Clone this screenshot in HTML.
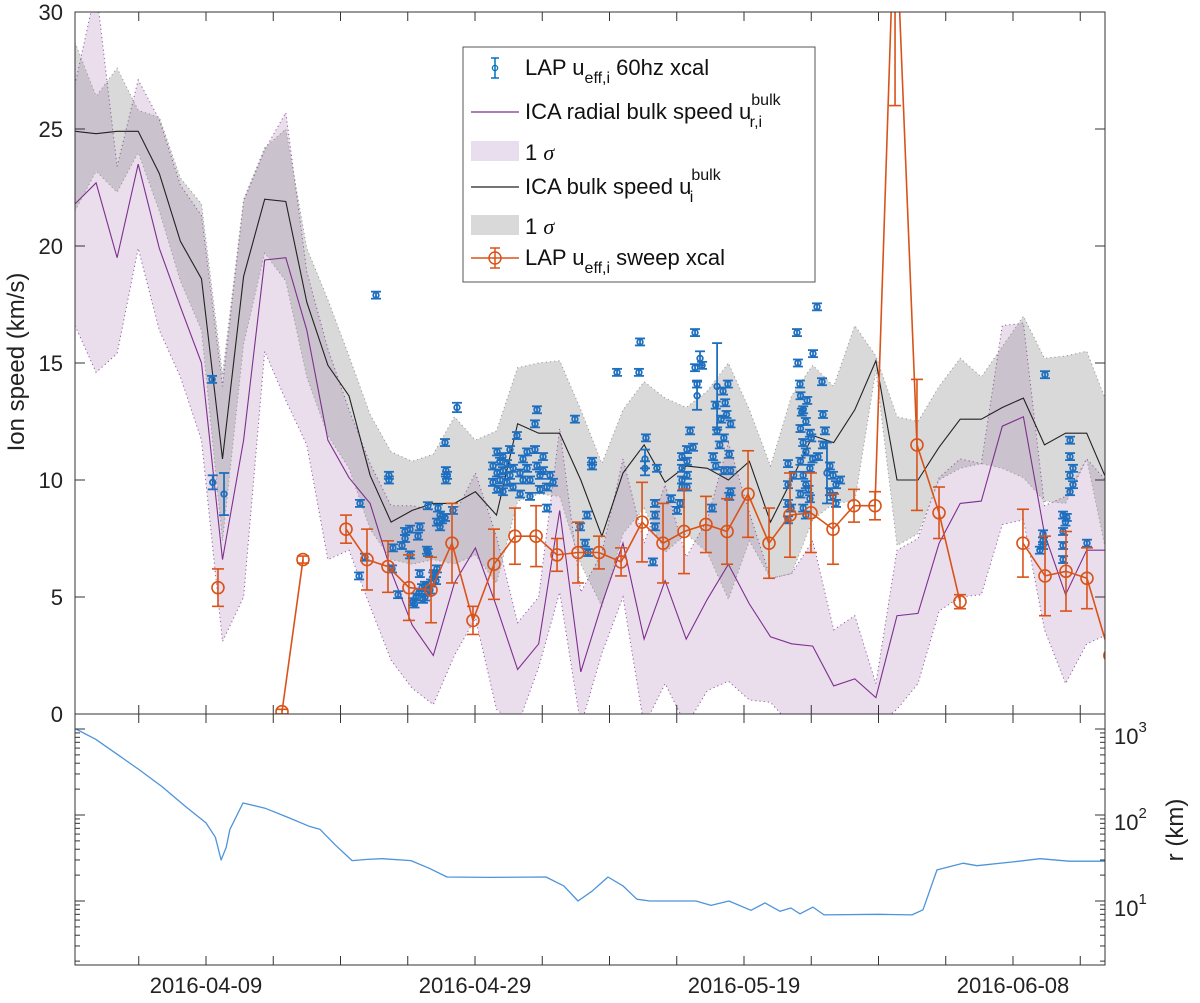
<!DOCTYPE html>
<html><head><meta charset="utf-8"><style>
html,body{margin:0;padding:0;background:#fff;}
svg{display:block;font-family:"Liberation Sans",Arial,sans-serif;}
</style></head>
<body>
<svg id="chart" width="1200" height="1003" viewBox="0 0 1200 1003" xmlns="http://www.w3.org/2000/svg">
<defs>
<clipPath id="clipTop"><rect x="75" y="12" width="1030" height="702"/></clipPath>
<clipPath id="clipBot"><rect x="75" y="714" width="1030" height="251"/></clipPath>
</defs>
<rect x="0" y="0" width="1200" height="1003" fill="#fff"/>
<g id="top-plot" clip-path="url(#clipTop)"></g>
<g id="bot-plot" clip-path="url(#clipBot)"></g>
<g id="axes"></g>
<text x="24" y="362" font-size="24" text-anchor="middle" transform="rotate(-90 24 362)" fill="#222">Ion speed (km/s)</text>
<text x="1183" y="830" font-size="24" text-anchor="middle" transform="rotate(-90 1183 830)" fill="#222">r (km)</text>
<g id="legend">
<rect x="463" y="47" width="352" height="235" fill="#fff" stroke="#555" stroke-width="1"/>
<g>
<line x1="495" y1="58" x2="495" y2="78" stroke="#0072BD" stroke-width="1.5"/>
<line x1="491" y1="58" x2="499" y2="58" stroke="#0072BD" stroke-width="1.5"/>
<line x1="491" y1="78" x2="499" y2="78" stroke="#0072BD" stroke-width="1.5"/>
<circle cx="495" cy="68" r="2.6" fill="none" stroke="#0072BD" stroke-width="1.3"/>
<text x="525" y="75" font-size="22" fill="#111">LAP u<tspan dy="8" font-size="16">eff,i</tspan><tspan dy="-8"> 60hz xcal</tspan></text>
</g>
<g>
<line x1="471" y1="112" x2="519" y2="112" stroke="#7E2F8E" stroke-width="1.2"/>
<text x="525" y="119" font-size="22" fill="#111">ICA radial bulk speed u<tspan dy="-14" font-size="16">bulk</tspan><tspan dx="-31" dy="22" font-size="16">r,i</tspan></text>
</g>
<g>
<rect x="471" y="141" width="48" height="20" fill="#E8DEEE"/>
<text x="525" y="160" font-size="22" fill="#111">1 <tspan font-family="Liberation Serif,serif" font-style="italic">σ</tspan></text>
</g>
<g>
<line x1="471" y1="187" x2="519" y2="187" stroke="#222" stroke-width="1.2"/>
<text x="525" y="194" font-size="22" fill="#111">ICA bulk speed u<tspan dy="-14" font-size="16">bulk</tspan><tspan dx="-31" dy="22" font-size="16">i</tspan></text>
</g>
<g>
<rect x="471" y="215" width="48" height="20" fill="#D9D9D9"/>
<text x="525" y="234" font-size="22" fill="#111">1 <tspan font-family="Liberation Serif,serif" font-style="italic">σ</tspan></text>
</g>
<g>
<line x1="471" y1="258" x2="519" y2="258" stroke="#D95319" stroke-width="1.5"/>
<line x1="495" y1="248" x2="495" y2="268" stroke="#D95319" stroke-width="1.5"/>
<line x1="490" y1="248" x2="500" y2="248" stroke="#D95319" stroke-width="1.5"/>
<line x1="490" y1="268" x2="500" y2="268" stroke="#D95319" stroke-width="1.5"/>
<circle cx="495" cy="258" r="6" fill="none" stroke="#D95319" stroke-width="1.5"/>
<text x="525" y="265" font-size="22" fill="#111">LAP u<tspan dy="8" font-size="16">eff,i</tspan><tspan dy="-8"> sweep xcal</tspan></text>
</g>
</g>
</svg>
<script>
// ---- data (days since 2016-04-09) ----
const nodeStartDay = -9.74;
const nodeStepDay = 1.567;
const icaBulk = [24.9,24.8,24.9,24.9,23.1,20.2,18.6,10.9,18.7,22.0,21.9,17.6,14.9,13.6,10.2,8.2,8.7,9.0,9.0,9.5,
 8.5,12.4,12.0,12.0,10.0,7.6,10.3,11.5,9.9,10.6,10.5,10.0,10.8,8.2,10.0,11.9,11.6,
 13.0,15.1,10.0,10.0,11.4,12.6,12.6,13.1,13.5,11.5,12.0,12.0,9.9];
const icaBulkUpper = [28.7,26.4,27.6,25.8,25.5,22.9,21.8,14.5,22.0,24.2,25.0,19.9,17.7,15.3,12.8,11.2,10.8,11.1,12.7,11.7,
 12.1,14.8,15.0,15.1,13.0,10.7,13.0,14.2,13.5,13.1,13.8,15.0,13.0,10.6,13.6,14.9,14.0,
 16.6,15.3,12.7,12.5,14.0,15.2,14.4,15.7,17.0,15.2,15.3,15.5,13.2];
const icaBulkLower = [21.5,23.2,22.3,24.0,21.5,18.5,16.4,7.4,15.8,19.7,18.5,14.4,11.9,10.5,7.9,6.6,6.4,6.6,6.4,6.8,
 5.6,9.1,9.4,9.3,6.4,4.6,7.7,8.8,6.9,7.7,6.9,4.9,7.4,5.8,6.0,8.3,9.0,
 9.1,14.7,7.2,7.7,10.0,10.5,10.7,10.5,10.1,9.1,9.0,10.9,6.6];
const icaRadial = [21.8,22.7,19.5,23.5,19.9,17.4,15.0,6.6,11.7,19.4,19.5,16.4,11.7,10.1,9.0,6.1,3.8,2.5,5.6,7.1,
 4.6,1.9,3.0,8.7,1.8,4.7,7.3,3.2,5.7,3.2,4.9,6.4,4.7,3.3,3.0,2.9,1.2,
 1.5,0.7,4.2,4.3,7.3,9.0,9.1,12.3,12.7,7.7,5.1,7.0,7.0];
const icaRadialUpper = [26.9,31.0,23.4,27.1,25.4,22.6,21.3,14.0,21.9,24.1,25.7,18.9,15.6,13.0,10.7,8.9,8.9,8.7,8.5,10.3,
 7.6,3.9,5.0,12.2,5.2,6.9,10.9,7.3,9.8,6.7,8.3,11.6,8.6,5.8,6.0,7.4,3.6,
 4.2,1.3,7.0,7.5,10.1,10.9,10.7,16.6,16.7,8.9,9.3,10.9,9.9];
const icaRadialLower = [16.6,14.6,15.4,19.9,16.4,14.4,11.7,3.1,5.0,15.5,13.4,11.5,6.6,7.0,4.6,2.3,1.1,0.4,2.5,4.1,
 0.2,-0.5,2.0,5.2,-0.5,2.6,5.0,-0.5,1.3,-0.5,1.0,1.4,0.6,0.5,-0.5,-0.5,-0.5,
 -0.5,-0.5,0.2,1.3,4.4,5.0,5.1,8.1,8.3,3.6,1.3,3.0,3.4];

const sweepDays = [0.89,3.3,5.65,7.21,9.0,10.41,11.97,13.53,15.09,16.73,18.29,19.85,21.41,22.97,24.54,26.10,27.66,29.22,30.86,32.42,33.98,35.54,37.17,38.74,40.30,41.86,43.42,44.98,46.62,48.18,49.74,51.23,52.86,54.50,56.06,58.5,60.74,62.38,63.94,65.50,67.2];
const sweepVals = [5.4,null,0.1,6.6,null,7.9,6.6,6.3,5.4,5.3,7.3,4.0,6.4,7.6,7.6,6.8,6.9,6.9,6.5,8.2,7.3,7.8,8.1,7.8,9.4,7.3,8.5,8.6,7.9,8.9,8.9,35,11.5,8.6,4.8,null,7.3,5.9,6.1,5.8,2.5];
const sweepErr = [0.8,0,0.1,0.15,0,0.6,1.3,1.1,1.4,1.4,1.7,0.6,1.5,1.2,1.3,0.7,1.3,0.7,0.6,1.7,1.7,1.8,1.2,1.4,1.85,1.5,1.8,1.7,1.5,0.7,0.6,9,2.8,1.1,0.3,0,1.45,1.7,1.7,1.3,0];

const blueDays = [0.45,0.5,1.34,12.64,11.45,13.6,13.6,11.82,11.38,13.9,13.83,14.28,14.57,14.8,14.8,15.17,15.17,15.76,15.9,15.9,16.43,16.5,16.28,
 15.39,15.61,15.84,16.06,16.28,16.5,16.73,16.95,17.17,16.13,16.65,17.1,15.5,16.9,16.5,17.25,17.4,17.55,17.4,17.17,17.77,17.84,17.92,17.84,17.77,18.66,18.36,
 21.34,21.34,21.64,21.64,21.64,21.86,21.86,22.08,22.08,22.08,22.38,22.38,22.6,22.6,22.83,22.83,23.12,23.35,23.35,23.57,23.57,23.87,23.87,24.09,24.09,24.46,24.61,24.46,24.61,24.83,24.83,25.06,25.06,25.35,25.35,25.58,25.8,
 27.43,28.7,28.7,27.81,28.33,28.18,28.4,30.56,32.27,32.19,32.71,32.64,32.64,33.53,33.38,33.38,33.38,33.23,34.57,35.02,35.24,35.39,35.39,35.39,35.39,35.76,35.76,35.76,35.76,35.99,36.21,36.36,36.36,36.51,36.51,36.73,36.88,
 37.62,38.0,38.44,38.6,37.9,38.7,39.0,38.0,38.5,38.2,38.9,37.9,38.5,39.0,39.0,38.9,37.7,38.3,38.8,
 43.27,43.27,43.27,43.27,43.5,43.7,43.94,44.01,44.16,45.13,45.43,45.8,45.87,
 44.2,44.4,44.6,44.2,44.9,44.4,44.6,44.2,44.9,44.4,44.6,44.2,44.9,44.4,44.6,45.0,45.1,44.3,44.7,44.8,
 45.87,46.02,46.17,46.39,46.39,46.62,46.62,46.84,47.14,46.84,45.5,
 62.38,64.24,64.24,64.46,64.24,64.46,64.24,62.23,62.23,62.23,62.0,63.72,63.72,63.72,63.72,63.9,65.5,64.0];
const blueVals = [14.3,9.9,9.4,17.9,9.0,10.0,10.2,6.7,5.9,7.1,6.2,5.1,7.2,7.8,7.5,7.9,6.8,7.6,8.0,6.0,7.0,6.9,5.5,
 4.8,5.0,5.2,5.4,5.0,5.2,5.6,6.0,6.2,4.9,5.3,5.7,4.7,5.9,8.9,8.8,8.5,8.3,8.0,8.2,8.4,10.4,10.2,10.0,11.6,13.1,8.7,
 10.6,9.9,11.2,10.3,9.6,10.8,10.0,11.0,10.4,9.5,10.7,9.9,11.3,10.2,10.5,9.7,11.9,10.3,9.4,10.9,10.0,11.2,10.5,10.0,9.3,12.4,13.0,11.3,10.6,10.2,9.6,11.0,10.4,8.8,9.7,10.2,9.9,
 12.6,10.8,10.6,8.0,8.5,7.3,6.9,14.6,15.9,14.6,11.8,10.9,10.5,10.5,9.0,8.5,8.0,6.5,9.2,8.7,9.0,11.0,10.5,10.0,9.7,11.3,10.8,10.2,9.7,12.1,11.4,16.3,14.8,14.1,13.6,15.2,14.9,
 8.8,14.0,13.8,13.3,13.2,12.8,12.4,12.1,11.8,11.5,11.1,10.6,10.4,10.4,9.5,9.3,11.0,12.6,14.1,
 10.7,9.8,9.0,8.3,8.8,10.2,16.3,15.0,14.1,15.4,17.4,14.2,12.8,
 13.6,13.0,12.5,12.2,12.0,11.6,11.2,10.8,10.5,10.2,9.8,9.4,9.2,8.8,8.5,11.8,10.9,12.9,13.4,9.6,
 11.5,12.1,10.3,10.6,9.5,10.2,9.3,9.8,10.0,9.0,11.0,
 14.5,11.7,11.0,10.5,10.2,9.8,9.5,7.7,7.4,7.2,7.0,8.5,7.8,7.2,6.6,8.2,7.3,8.4];
const blueErrBig = {0:0.15,1:0.3,2:0.9,48:0.2};
const blueErrSpecial = [[98,0.4],[99,0.3],[121,0.6],[122,0.3],[125,1.85],[178,1.3]];

const rDays = [-9.67,-8.2,-6.54,-4.9,-3.27,-1.5,0,0.7,1.12,1.5,1.78,2.75,4.39,6.0,7.66,8.48,9.6,10.86,12.0,13.09,15.24,16.6,17.92,21.0,25.28,26.6,27.66,28.7,29.89,31.0,32.04,33.0,36.43,37.55,38.88,40.52,41.56,42.68,43.49,44.16,45.13,45.95,50.0,52.49,53.31,54.35,56.28,57.32,60.0,62.01,64.16,67.14];
const rKm = [1000,760,501,330,214,125,81,55,30,42,68,138,120,95,74,68,45,29.5,30.5,31,29.5,24,19,18.8,19,15,10,13,19,15,10.5,10,10,8.9,10,7.8,9.5,7.6,8.3,7.1,8.5,6.9,7.0,6.9,7.9,23,27.5,25.7,28.5,31,29,29];

const speedTicks = [0,5,10,15,20,25,30];
const dateTickLabels = ["2016-04-09","2016-04-29","2016-05-19","2016-06-08"];
const dateTickDays = [0,20,40,60];
const rTickExps = [1,2,3];

// ---- scales ----
const X0 = 75, X1 = 1105, TOP = 12, MID = 714, BOT = 965;
function xs(d){ return 206 + 13.45 * d; }
function ys(v){ return MID - 23.4 * v; }
function yr(r){ return 729 + (3 - Math.log10(r)) * 86; }
const NS = "http://www.w3.org/2000/svg";
function mk(tag, attrs, parent){
  const e = document.createElementNS(NS, tag);
  for (const k in attrs) e.setAttribute(k, attrs[k]);
  parent.appendChild(e);
  return e;
}
const topG = document.getElementById('top-plot');
const botG = document.getElementById('bot-plot');
const axG = document.getElementById('axes');
const nodeDays = icaBulk.map((_, i) => nodeStartDay + i * nodeStepDay);

function bandPts(up, lo){
  const a = nodeDays.map((d, i) => xs(d).toFixed(1) + ',' + ys(up[i]).toFixed(1));
  const b = nodeDays.map((d, i) => xs(d).toFixed(1) + ',' + ys(lo[i]).toFixed(1)).reverse();
  return a.concat(b).join(' ');
}
function linePts(arr){ return nodeDays.map((d, i) => xs(d).toFixed(1) + ',' + ys(arr[i]).toFixed(1)).join(' '); }

const pb = mk('polygon', {points: bandPts(icaRadialUpper, icaRadialLower), fill: 'rgb(126,47,142)', 'fill-opacity': 0.16, stroke: 'none'}, topG);


const gb = mk('polygon', {points: bandPts(icaBulkUpper, icaBulkLower), fill: 'rgb(128,128,128)', 'fill-opacity': 0.3, stroke: 'none'}, topG);


[[icaRadialUpper,'#8E5AA0'],[icaRadialLower,'#8E5AA0'],[icaBulkUpper,'#999'],[icaBulkLower,'#999']].forEach(([arr,c]) => {
  const l = mk('polyline', {points: linePts(arr), fill: 'none', stroke: c, 'stroke-width': 1, 'stroke-dasharray': '1.2,3'}, topG);
  
  
});
const rl = mk('polyline', {points: linePts(icaRadial), fill: 'none', stroke: '#7E2F8E', 'stroke-width': 1.1}, topG);


const bl = mk('polyline', {points: linePts(icaBulk), fill: 'none', stroke: '#222', 'stroke-width': 1.1}, topG);



const blueG = mk('g', {}, topG);


const errMap = {};
blueErrSpecial.forEach(([i, e]) => errMap[i] = e);
for (const i in blueErrBig) errMap[i] = blueErrBig[i];
blueDays.forEach((d, i) => {
  const e = errMap[i] !== undefined ? errMap[i] : 0.15;
  const cx = xs(d), cy = ys(blueVals[i]);
  const y1 = ys(blueVals[i] + e), y2 = ys(blueVals[i] - e);
  const g = mk('g', {stroke: '#1F6FBF', 'stroke-width': 1.8, fill: 'none'}, blueG);
  
  
  mk('line', {x1: cx, y1: y1, x2: cx, y2: y2}, g);
  mk('line', {x1: cx - 5, y1: y1, x2: cx + 5, y2: y1}, g);
  mk('line', {x1: cx - 5, y1: y2, x2: cx + 5, y2: y2}, g);
  mk('circle', {cx: cx, cy: cy, r: 2.8}, g);
});

const swG = mk('g', {stroke: '#D95319', fill: 'none', 'stroke-width': 1.6}, topG);


let seg = [];
const segs = [];
sweepDays.forEach((d, i) => {
  if (sweepVals[i] === null) { if (seg.length) segs.push(seg); seg = []; }
  else seg.push(xs(d).toFixed(1) + ',' + ys(sweepVals[i]).toFixed(1));
});
if (seg.length) segs.push(seg);
segs.forEach(s => {
  const p = mk('polyline', {points: s.join(' ')}, swG);
  
  
});
sweepDays.forEach((d, i) => {
  if (sweepVals[i] === null) return;
  const cx = xs(d), cy = ys(sweepVals[i]);
  const e = sweepErr[i];
  const g = mk('g', {}, swG);
  
  
  if (e > 0) {
    const y1 = ys(sweepVals[i] + e), y2 = ys(sweepVals[i] - e);
    mk('line', {x1: cx, y1: y1, x2: cx, y2: y2}, g);
    mk('line', {x1: cx - 6, y1: y1, x2: cx + 6, y2: y1}, g);
    mk('line', {x1: cx - 6, y1: y2, x2: cx + 6, y2: y2}, g);
  }
  mk('circle', {cx: cx, cy: cy, r: 6}, g);
});

const rc = mk('polyline', {points: rDays.map((d, i) => xs(d).toFixed(1) + ',' + yr(rKm[i]).toFixed(1)).join(' '), fill: 'none', stroke: '#4D94DB', 'stroke-width': 1.3, 'stroke-linejoin': 'round'}, botG);



const ax = mk('g', {stroke: '#333', 'stroke-width': 1, fill: 'none'}, axG);


mk('rect', {x: X0, y: TOP, width: X1 - X0, height: MID - TOP}, ax);
mk('rect', {x: X0, y: MID, width: X1 - X0, height: BOT - MID}, ax);
for (let d = -5; d <= 65; d += 5) {
  const x = xs(d);
  mk('line', {x1: x, y1: TOP, x2: x, y2: TOP + 9}, ax);
  mk('line', {x1: x, y1: MID, x2: x, y2: MID - 9}, ax);
  mk('line', {x1: x, y1: MID, x2: x, y2: MID + 9}, ax);
  mk('line', {x1: x, y1: BOT, x2: x, y2: BOT - 9}, ax);
}
const labG = mk('g', {fill: '#222', 'font-size': 22}, axG);


dateTickDays.forEach((d, i) => {
  const t = mk('text', {x: xs(d), y: 993, 'text-anchor': 'middle'}, labG);
  t.textContent = dateTickLabels[i];
  
  
});
speedTicks.forEach(v => {
  const y = ys(v);
  mk('line', {x1: X0, y1: y, x2: X0 + 10, y2: y}, ax);
  mk('line', {x1: X1, y1: y, x2: X1 - 10, y2: y}, ax);
  const t = mk('text', {x: 63, y: y + 8, 'text-anchor': 'end'}, labG);
  t.textContent = v;
  
  
});
for (let k = 0; k <= 3; k++) {
  for (let m = 1; m <= 9; m++) {
    const r = m * Math.pow(10, k);
    const y = yr(r);
    if (y < MID + 2 || y > BOT - 2) continue;
    const len = m === 1 ? 10 : 5;
    mk('line', {x1: X0, y1: y, x2: X0 + len, y2: y}, ax);
    mk('line', {x1: X1, y1: y, x2: X1 - len, y2: y}, ax);
  }
}
rTickExps.forEach(e => {
  const y = yr(Math.pow(10, e));
  const t = mk('text', {x: 1114, y: y + 15}, labG);
  
  
  t.innerHTML = '10<tspan dy="-12" font-size="15">' + e + '</tspan>';
});
</script>
</body></html>
